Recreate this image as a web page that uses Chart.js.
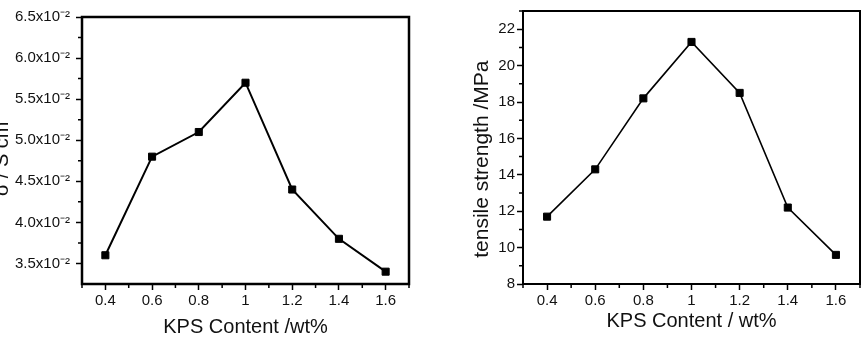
<!DOCTYPE html>
<html>
<head>
<meta charset="utf-8">
<script src="https://cdn.jsdelivr.net/npm/chart.js@4"></script>
<style>
body { margin: 0; background: #fff; width: 866px; height: 342px; overflow: hidden; position: relative; }
#sigma { position: absolute; left: -10px; top: 0; }
#tensile { position: absolute; left: 436px; top: 0; }
</style>
</head>
<body>
<canvas id="sigma" width="440" height="342"></canvas>
<canvas id="tensile" width="430" height="342"></canvas>
<script>
// KPS content (wt%) on both charts
const kps = [0.4, 0.6, 0.8, 1.0, 1.2, 1.4, 1.6];
const sigmaValues = [0.036, 0.048, 0.051, 0.057, 0.044, 0.038, 0.034];
const tensileValues = [11.7, 14.3, 18.2, 21.3, 18.5, 12.2, 9.6];

const xTicks = [0.4, 0.6, 0.8, 1.0, 1.2, 1.4, 1.6];
const xTickLabels = ['0.4', '0.6', '0.8', '1', '1.2', '1.4', '1.6'];
const xMinor = [0.3, 0.5, 0.7, 0.9, 1.1, 1.3, 1.5, 1.7];

const sigmaTicks = [0.035, 0.040, 0.045, 0.050, 0.055, 0.060, 0.065];
const sigmaTickLabels = ['3.5x10⁻²', '4.0x10⁻²', '4.5x10⁻²', '5.0x10⁻²', '5.5x10⁻²', '6.0x10⁻²', '6.5x10⁻²'];
const sigmaMinor = [0.0375, 0.0425, 0.0475, 0.0525, 0.0575, 0.0625];

const tensileTicks = [8, 10, 12, 14, 16, 18, 20, 22];
const tensileTickLabels = ['8', '10', '12', '14', '16', '18', '20', '22'];
const tensileMinor = [9, 11, 13, 15, 17, 19, 21, 23];

const FONT = '"Liberation Sans", Arial, sans-serif';

// box around the plot + short minor ticks
const frame = {
  id: 'frame',
  afterDraw(chart, args, opts) {
    const {ctx, chartArea: a, scales: {x, y}} = chart;
    ctx.save();
    ctx.strokeStyle = '#000';
    ctx.lineWidth = opts.width;
    ctx.strokeRect(a.left, a.top, a.right - a.left, a.bottom - a.top);
    ctx.lineWidth = 1.5;
    ctx.beginPath();
    opts.minorX.forEach(v => {
      const px = x.getPixelForValue(v);
      ctx.moveTo(px, a.bottom); ctx.lineTo(px, a.bottom + 4);
    });
    opts.minorY.forEach(v => {
      const py = y.getPixelForValue(v);
      ctx.moveTo(a.left, py); ctx.lineTo(a.left - 4, py);
    });
    ctx.stroke();
    ctx.restore();
  }
};

function makeChart(id, s) {
  return new Chart(document.getElementById(id), {
    type: 'line',
    data: {
      datasets: [{
        data: kps.map((k, i) => ({x: k, y: s.values[i]})),
        borderColor: '#000',
        borderWidth: s.lineWidth,
        backgroundColor: '#000',
        pointStyle: 'rect',
        pointRadius: 5,
        pointBorderWidth: 1,
        tension: 0
      }]
    },
    options: {
      responsive: false,
      animation: false,
      layout: {padding: s.padding},
      plugins: {
        legend: {display: false},
        tooltip: {enabled: false},
        frame: {width: s.frameWidth, minorX: xMinor, minorY: s.minor}
      },
      scales: {
        x: {
          type: 'linear',
          min: 0.3, max: 1.7,
          afterBuildTicks: sc => { sc.ticks = xTicks.map(v => ({value: v})); },
          afterFit: sc => { sc.height = 58; },
          border: {display: false},
          grid: {drawOnChartArea: false, tickLength: 6, tickWidth: 1.5, tickColor: '#000'},
          ticks: {
            padding: 2, color: '#111', font: {family: FONT, size: 15},
            maxRotation: 0,
            callback: v => xTickLabels[xTicks.indexOf(v)]
          },
          title: {display: true, text: s.xTitle, color: '#111',
                  font: {family: FONT, size: 20}, padding: {top: 0, bottom: s.xTitlePad}}
        },
        y: {
          min: s.min, max: s.max,
          afterBuildTicks: sc => { sc.ticks = s.ticks.map(v => ({value: v})); },
          afterFit: sc => { sc.width = s.yWidth; },
          border: {display: false},
          grid: {drawOnChartArea: false, tickLength: 6, tickWidth: 1.5, tickColor: '#000'},
          ticks: {
            padding: s.yTickPad, color: '#111', font: {family: FONT, size: 15},
            callback: v => s.labels[s.ticks.indexOf(v)]
          },
          title: {display: true, text: s.yTitle, color: '#111',
                  font: {family: FONT, size: s.yTitleSize}, padding: {top: s.yTitlePad, bottom: 0}}
        }
      }
    },
    plugins: [frame]
  });
}

// trailing no-break spaces nudge the rotated titles down like in the original
makeChart('sigma', {
  values: sigmaValues, min: 0.0325, max: 0.065,
  ticks: sigmaTicks, labels: sigmaTickLabels, minor: sigmaMinor,
  yTitle: 'σ / S cm\u00a0\u00a0\u00a0', xTitle: 'KPS Content /wt%',
  padding: {left: 0, top: 17, right: 21, bottom: 0},
  yWidth: 92, yTickPad: 6, yTitlePad: 0, yTitleSize: 20, xTitlePad: 3,
  lineWidth: 2, frameWidth: 2.5
});

makeChart('tensile', {
  values: tensileValues, min: 8, max: 23,
  ticks: tensileTicks, labels: tensileTickLabels, minor: tensileMinor,
  yTitle: 'tensile strength /MPa\u00a0\u00a0\u00a0\u00a0', xTitle: 'KPS Content / wt%',
  padding: {left: 0, top: 5, right: 2, bottom: 0},
  yWidth: 87, yTickPad: 2, yTitlePad: 34, yTitleSize: 21, xTitlePad: 9,
  lineWidth: 1.6, frameWidth: 2
});
</script>
</body>
</html>
